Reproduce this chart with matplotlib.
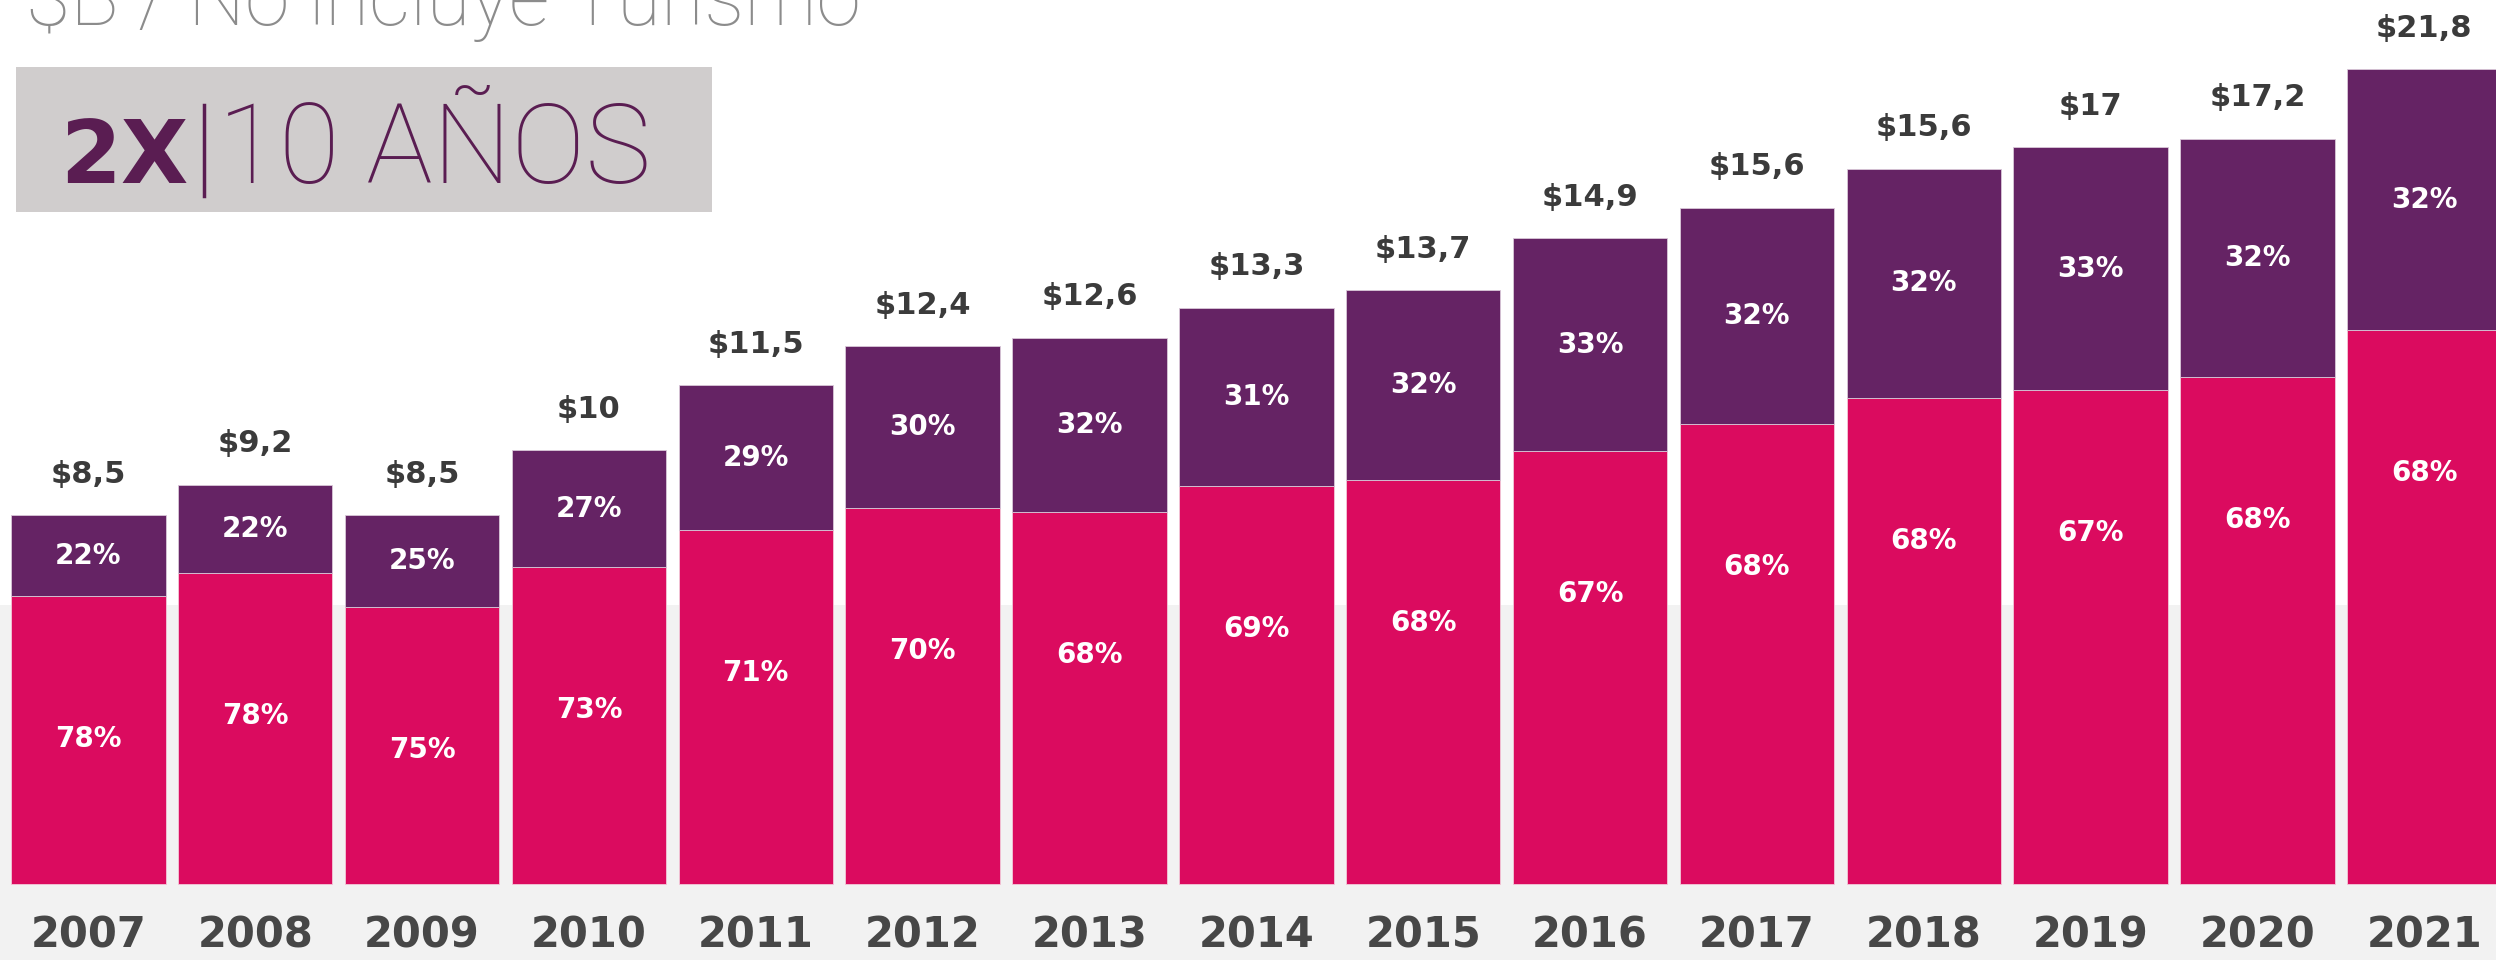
#!/usr/bin/env python3
"""
Exportaciones 2007-2021: barras apiladas por participacion
"""

import numpy as np
import matplotlib.pyplot as plt
from matplotlib.patches import Rectangle
from matplotlib.lines import Line2D

years = ['2007', '2008', '2009', '2010', '2011', '2012', '2013', '2014',
         '2015', '2016', '2017', '2018', '2019', '2020', '2021']
# drawn bar heights ($B) as they appear in the picture (2021 bar is truncated)
bar_heights = [8.5, 9.2, 8.5, 10.0, 11.5, 12.4, 12.6, 13.3,
               13.7, 14.9, 15.6, 16.5, 17.0, 17.2, 18.8]
total_labels = ['$8,5', '$9,2', '$8,5', '$10', '$11,5', '$12,4', '$12,6', '$13,3',
                '$13,7', '$14,9', '$15,6', '$15,6', '$17', '$17,2', '$21,8']
pink_pct = [78, 78, 75, 73, 71, 70, 68, 69, 68, 67, 68, 68, 67, 68, 68]
purple_pct = [22, 22, 25, 27, 29, 30, 32, 31, 32, 33, 32, 32, 33, 32, 32]

PINK = '#db0b5f'
PURPLE = '#652364'
DARK = '#3b3b3b'


def main():
    fig = plt.figure(figsize=(24.96, 9.6), dpi=100)
    ax = fig.add_axes([0, 0, 1, 1])

    x = np.arange(len(years))
    h = np.array(bar_heights)
    pink = h * np.array(pink_pct) / 100
    purple = h - pink

    # light gray band behind the lower part of the chart
    ax.axhspan(-3, 6.43, color='#f2f2f2', zorder=0, lw=0)

    ax.bar(x, pink, width=0.925, color=PINK, zorder=2, edgecolor='#f3c9d9', linewidth=0.6)
    ax.bar(x, purple, bottom=pink, width=0.925, color=PURPLE, zorder=2,
           edgecolor='#d9c8d8', linewidth=0.6)

    for i in range(len(years)):
        ax.text(x[i], h[i] + 0.95, total_labels[i], ha='center', va='center',
                fontsize=22, fontweight='bold', color=DARK)
        ax.text(x[i], pink[i] + purple[i] / 2, f'{purple_pct[i]}%', ha='center',
                va='center', fontsize=20, fontweight='bold', color='white', zorder=3)
        ax.text(x[i], pink[i] - 3.3, f'{pink_pct[i]}%', ha='center',
                va='center', fontsize=20, fontweight='bold', color='white', zorder=3)
        ax.text(x[i], -1.2, years[i], ha='center', va='center',
                fontsize=30, fontweight='bold', color='#474747')

    ax.set_xlim(-0.53, 14.43)
    ax.set_ylim(-1.765, 20.4)
    ax.axis('off')

    # title (cut off at the top in the reference)
    fig.text(0.0105, 0.974, '$B / No incluye Turismo', fontsize=58, family='Roboto',
             fontweight='light', color='#8c8c8c', va='baseline', ha='left')

    # "2X | 10 AÑOS" badge
    fig.patches.append(Rectangle((0.0064, 0.779), 0.279, 0.151, transform=fig.transFigure,
                                 facecolor='#d0cdcd', edgecolor='none', zorder=1))
    fig.text(0.024, 0.809, '2X', fontsize=63, family='DejaVu Sans', fontweight='bold',
             color='#5a1d52', va='baseline', ha='left', zorder=2)
    fig.lines.append(Line2D([0.0817, 0.0817], [0.796, 0.891], transform=fig.transFigure,
                            color='#5a1d52', linewidth=2.5, zorder=2))
    fig.text(0.0875, 0.809, '10 AÑOS', fontsize=80, family='Roboto', fontweight='light',
             color='#5a1d52', va='baseline', ha='left', zorder=2)

    fig.savefig('out.png', dpi=100)
    plt.close(fig)


if __name__ == '__main__':
    main()
